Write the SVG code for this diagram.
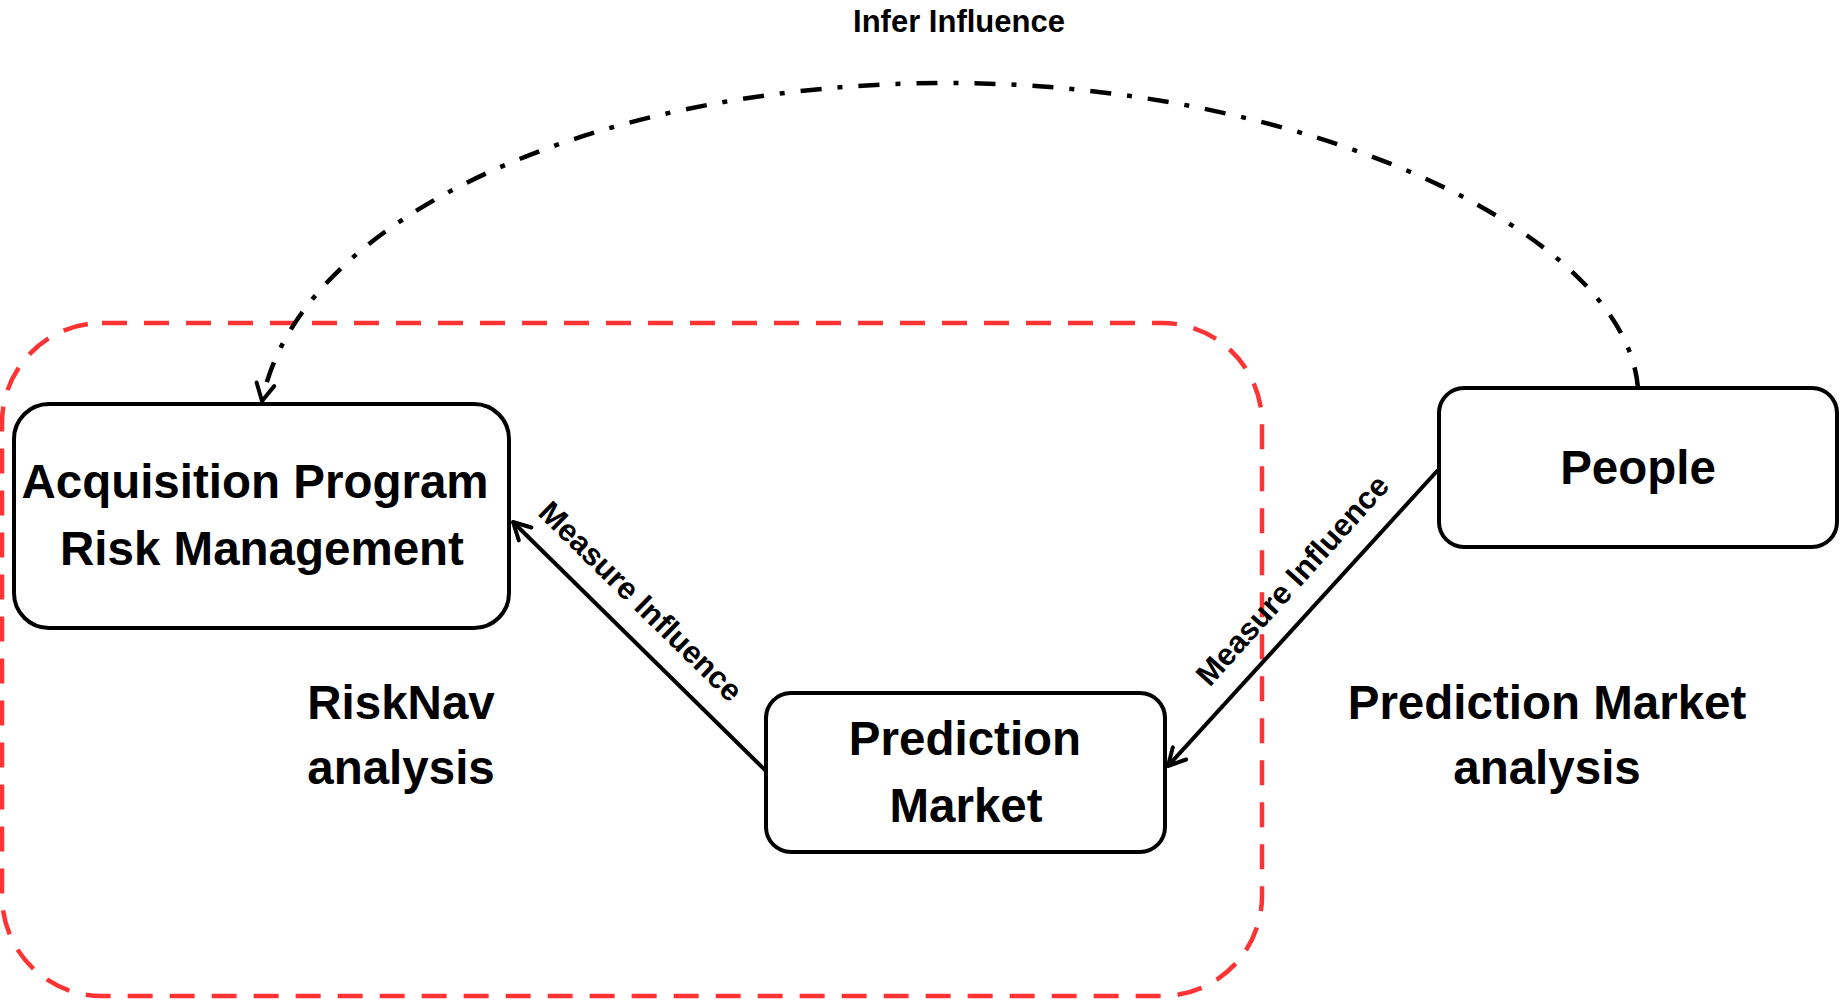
<svg xmlns="http://www.w3.org/2000/svg" width="1845" height="1001" viewBox="0 0 1845 1001">
<defs>
<style>
.node{fill:#ffffff;stroke:#000000;stroke-width:4}
.big{font-family:"Liberation Sans",Arial,sans-serif;font-weight:bold;font-size:47.5px;fill:#000000;text-anchor:middle}
.lbl{font-family:"Liberation Sans",Arial,sans-serif;font-weight:bold;font-size:31px;fill:#000000;text-anchor:middle}
.conn{fill:none;stroke:#000000;stroke-width:4}
.dashdot{fill:none;stroke:#000000;stroke-width:4.5;stroke-dasharray:21 16 5 16}
.group{fill:none;stroke:#FF3333;stroke-width:4.5;stroke-dasharray:25 17}
</style>
<marker id="open" viewBox="-25 -15 30 30" refX="0" refY="0" markerWidth="30" markerHeight="30" orient="auto" markerUnits="userSpaceOnUse">
<path d="M-17,-9 L0,0 L-17,9" fill="none" stroke="#000000" stroke-width="4" stroke-linejoin="round" stroke-linecap="round" stroke-dasharray="none"/>
</marker>
</defs>
<rect width="1845" height="1001" fill="#ffffff"/>
<g id="risknav-group">
<rect class="group" x="2" y="323" width="1260" height="673" rx="100" ry="100"/>
</g>
<g id="connectors">
<path class="dashdot" d="M1638,388 C1625,230 1300,83 948,83 C600,83 300,215 262,401" marker-end="url(#open)"/>
<line class="conn" x1="766" y1="771" x2="513" y2="522" marker-end="url(#open)"/>
<line class="conn" x1="1438" y1="470" x2="1168" y2="766" marker-end="url(#open)"/>
<text class="lbl" x="959" y="32">Infer Influence</text>
<text class="lbl" transform="translate(641,601) rotate(44.4)" x="0" y="11">Measure Influence</text>
<text class="lbl" transform="translate(1292,580) rotate(-48)" x="0" y="11">Measure Influence</text>
</g>
<g id="acquisition">
<rect class="node" x="14" y="404" width="495" height="224" rx="35" ry="35"/>
<text class="big" x="255" y="498">Acquisition Program</text>
<text class="big" x="262" y="565">Risk Management</text>
</g>
<g id="prediction-market">
<rect class="node" x="766" y="693" width="399" height="159" rx="25" ry="25"/>
<text class="big" x="965" y="755">Prediction</text>
<text class="big" x="966" y="822">Market</text>
</g>
<g id="people">
<rect class="node" x="1439" y="388" width="398" height="159" rx="25" ry="25"/>
<text class="big" x="1638" y="484">People</text>
</g>
<g id="risknav-label">
<text class="big" x="401" y="719">RiskNav</text>
<text class="big" x="401" y="784">analysis</text>
</g>
<g id="pm-analysis-label">
<text class="big" x="1547" y="719">Prediction Market</text>
<text class="big" x="1547" y="784">analysis</text>
</g>
</svg>
